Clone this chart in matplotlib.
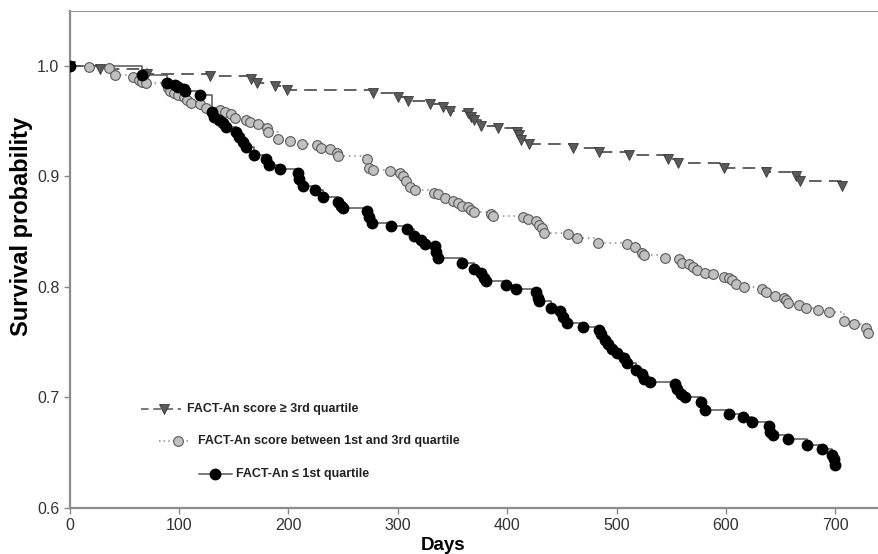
import matplotlib
matplotlib.use("Agg")
import matplotlib.pyplot as plt

plt.rcParams['font.family'] = ['Liberation Sans', 'DejaVu Sans']

# FACT-An score >= 3rd quartile
hi_days = [0, 28, 71, 128, 166, 171, 188, 199, 277, 300, 309, 329, 341, 348, 364, 367,
           370, 376, 392, 409, 411, 413, 420, 460, 484, 511, 547, 556, 598, 637, 664, 668, 706]
hi_surv = [1.000, 0.997, 0.993, 0.991, 0.988, 0.984, 0.982, 0.978, 0.975, 0.972, 0.968,
           0.965, 0.963, 0.959, 0.957, 0.954, 0.951, 0.946, 0.944, 0.940, 0.937, 0.933,
           0.929, 0.926, 0.922, 0.919, 0.916, 0.912, 0.908, 0.904, 0.900, 0.896, 0.891]

# between 1st and 3rd quartile
mid_days = [0, 18, 36, 41, 58, 63, 66, 70, 88, 90, 92, 95, 99, 104, 107, 111, 119, 125,
            137, 142, 147, 151, 161, 165, 172, 180, 181, 190, 201, 212, 226, 230, 238, 244,
            245, 272, 274, 277, 293, 302, 305, 307, 311, 316, 333, 337, 343, 350, 355, 359,
            364, 367, 370, 385, 387, 414, 419, 426, 429, 432, 434, 456, 464, 483, 510, 517,
            523, 525, 544, 557, 560, 566, 570, 574, 581, 588, 598, 603, 606, 609, 617, 633,
            637, 645, 653, 655, 657, 667, 673, 684, 694, 708, 717, 728, 730]
mid_surv = [1.000, 0.999, 0.998, 0.992, 0.990, 0.987, 0.985, 0.984, 0.984, 0.980, 0.977,
            0.975, 0.974, 0.972, 0.969, 0.966, 0.965, 0.962, 0.960, 0.958, 0.956, 0.953,
            0.951, 0.949, 0.947, 0.944, 0.940, 0.934, 0.932, 0.929, 0.928, 0.926, 0.925,
            0.921, 0.918, 0.916, 0.908, 0.906, 0.905, 0.903, 0.900, 0.896, 0.890, 0.888,
            0.885, 0.884, 0.880, 0.878, 0.876, 0.873, 0.872, 0.870, 0.868, 0.866, 0.864,
            0.863, 0.861, 0.860, 0.856, 0.853, 0.849, 0.848, 0.844, 0.840, 0.839, 0.836,
            0.831, 0.829, 0.826, 0.825, 0.822, 0.821, 0.818, 0.815, 0.813, 0.812, 0.809,
            0.808, 0.806, 0.803, 0.800, 0.798, 0.795, 0.792, 0.790, 0.788, 0.785, 0.784,
            0.781, 0.779, 0.777, 0.769, 0.766, 0.763, 0.758]

# FACT-An <= 1st quartile
lo_days = [0, 66, 89, 96, 99, 104, 105, 119, 130, 132, 136, 140, 143, 152, 155, 158,
           161, 168, 179, 182, 192, 209, 210, 213, 224, 232, 245, 248, 250, 272, 274, 276,
           294, 308, 315, 321, 325, 334, 335, 337, 359, 370, 376, 379, 381, 399, 408, 426,
           428, 429, 440, 448, 451, 455, 469, 484, 486, 489, 492, 496, 500, 507, 510, 518,
           523, 525, 531, 553, 555, 559, 563, 577, 581, 603, 616, 624, 639, 640, 643, 657,
           674, 688, 697, 699, 700]
lo_surv = [1.000, 0.992, 0.984, 0.983, 0.981, 0.979, 0.977, 0.974, 0.958, 0.954,
           0.951, 0.948, 0.945, 0.940, 0.936, 0.931, 0.927, 0.919, 0.916, 0.910, 0.907,
           0.903, 0.898, 0.891, 0.888, 0.881, 0.877, 0.873, 0.871, 0.869, 0.863, 0.858,
           0.855, 0.852, 0.846, 0.842, 0.839, 0.837, 0.832, 0.826, 0.822, 0.816, 0.813,
           0.808, 0.805, 0.802, 0.798, 0.795, 0.790, 0.787, 0.781, 0.778, 0.773, 0.767,
           0.764, 0.761, 0.757, 0.752, 0.748, 0.744, 0.740, 0.736, 0.731, 0.725, 0.721,
           0.717, 0.714, 0.712, 0.708, 0.703, 0.700, 0.696, 0.689, 0.685, 0.682, 0.678,
           0.674, 0.669, 0.666, 0.662, 0.657, 0.653, 0.648, 0.644, 0.639]

labels = ['FACT-An score \u2265 3rd quartile',
          'FACT-An score between 1st and 3rd quartile',
          'FACT-An \u2264 1st quartile']

fig = plt.figure(figsize=(8.79, 5.54), dpi=100)
ax = fig.add_axes([0.0794, 0.083, 0.9206, 0.898])

ax.plot(hi_days, hi_surv, drawstyle='steps-post', color='#555555', lw=1.3,
        dashes=(7, 4), zorder=2)
ax.plot(hi_days, hi_surv, ls='none', marker='v', ms=7, mfc='#5a5a5a', mec='#3a3a3a',
        mew=0.6, zorder=3)

ax.plot(mid_days, mid_surv, drawstyle='steps-post', color='#8a8a8a', lw=1.1,
        ls=(0, (1, 2.5)), zorder=2)
ax.plot(mid_days, mid_surv, ls='none', marker='o', ms=7, mfc='#c0c0c0', mec='#5a5a5a',
        mew=0.8, zorder=3)

ax.plot(lo_days, lo_surv, drawstyle='steps-post', color='#555555', lw=1.1, zorder=2)
ax.plot(lo_days, lo_surv, ls='none', marker='o', ms=7.5, mfc='black', mec='black',
        zorder=4)

# staggered legend entries (line start, line length, marker offset, text offset)
leg_y = [0.2, 0.134, 0.068]
leg_x = [0.088, 0.110, 0.160]
leg_len = [0.050, 0.040, 0.041]
leg_mk = [0.028, 0.024, 0.020]
leg_tx = [0.057, 0.048, 0.046]
styles = [dict(color='#555555', lw=1.1, dashes=(5, 3)),
          dict(color='#8a8a8a', lw=1.1, ls=(0, (1, 2))),
          dict(color='#555555', lw=1.1)]
marks = [dict(marker='v', ms=7, mfc='#5a5a5a', mec='#3a3a3a', mew=0.6),
         dict(marker='o', ms=7, mfc='#c0c0c0', mec='#5a5a5a', mew=0.8),
         dict(marker='o', ms=7.5, mfc='black', mec='black')]
for i in range(3):
    x0, y0 = leg_x[i], leg_y[i]
    ax.plot([x0, x0 + leg_len[i]], [y0, y0], transform=ax.transAxes, **styles[i])
    ax.plot([x0 + leg_mk[i]], [y0], transform=ax.transAxes, ls='none', **marks[i])
    ax.text(x0 + leg_tx[i], y0, labels[i], transform=ax.transAxes, fontsize=9,
            fontweight='bold', va='center', ha='left', color='#222222')

ax.set_xlim(0, 740)
ax.set_ylim(0.6, 1.05)
ax.set_xticks([0, 100, 200, 300, 400, 500, 600, 700])
ax.set_yticks([0.6, 0.7, 0.8, 0.9, 1.0])
ax.set_yticklabels(['0.6', '0.7', '0.8', '0.9', '1.0'])
ax.tick_params(labelsize=11.5, colors='#333333', length=4, color='#888888', width=1)

for s in ['left', 'bottom']:
    ax.spines[s].set_color('#8c8c8c')
    ax.spines[s].set_linewidth(1.6)
ax.spines['top'].set_color('#999999')
ax.spines['top'].set_linewidth(0.8)
ax.spines['right'].set_visible(False)

ax.set_xlabel('Days', fontsize=13.5, fontweight='bold', labelpad=0)
ax.set_ylabel('Survival probability', fontsize=17, fontweight='bold')
ax.xaxis.set_label_coords(0.461, -0.058)
ax.yaxis.set_label_coords(-0.045, 0.565)

fig.savefig('out.png', dpi=100)
